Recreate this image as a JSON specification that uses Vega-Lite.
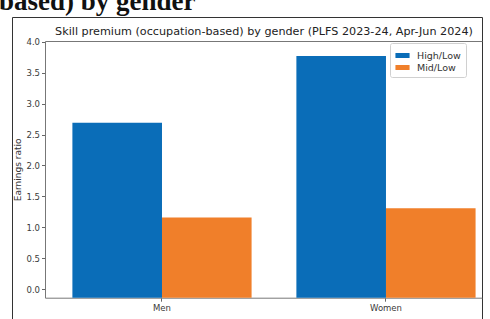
{
  "$schema": "https://vega.github.io/schema/vega-lite/v6.json",
  "width": 470,
  "height": 303,
  "autosize": {"type": "none"},
  "padding": {"left": 12, "top": 17, "right": 8, "bottom": 0},
  "background": "white",
  "title": {
    "text": "based) by gender",
    "anchor": "start",
    "frame": "group",
    "font": "Liberation Serif",
    "fontSize": 27,
    "fontWeight": "bold",
    "color": "#111111",
    "dx": -13,
    "baseline": "alphabetic",
    "offset": -20
  },
  "data": {
    "values": [
      {"gender": "Men", "ratio": "High/Low", "value": 2.69},
      {"gender": "Men", "ratio": "Mid/Low", "value": 1.16},
      {"gender": "Women", "ratio": "High/Low", "value": 3.77},
      {"gender": "Women", "ratio": "Mid/Low", "value": 1.31}
    ]
  },
  "layer": [
    {
      "mark": {"type": "bar"},
      "encoding": {
        "x": {
          "field": "gender",
          "type": "nominal",
          "sort": ["Men", "Women"],
          "scale": {"range": [33, 470], "paddingInner": 0.2, "paddingOuter": 0.0755, "align": 0.81},
          "axis": {
            "orient": "bottom",
            "offset": -22.3,
            "title": null,
            "labelAngle": 0,
            "labelFont": "DejaVu Sans",
            "labelFontSize": 8.5,
            "labelColor": "#3a3a3a",
            "labelPadding": 2,
            "tickSize": 3.5,
            "tickColor": "#666666",
            "domainColor": "#777777",
            "domainWidth": 1
          }
        },
        "xOffset": {
          "field": "ratio",
          "type": "nominal",
          "sort": ["High/Low", "Mid/Low"],
          "scale": {"paddingInner": 0, "paddingOuter": 0}
        },
        "y": {
          "field": "value",
          "type": "quantitative",
          "scale": {"domain": [-0.136, 4.011], "range": [280.7, 24], "nice": false, "zero": false},
          "axis": {
            "orient": "left",
            "offset": -33,
            "values": [0, 0.5, 1, 1.5, 2, 2.5, 3, 3.5, 4],
            "format": ".1f",
            "grid": false,
            "labelFont": "DejaVu Sans",
            "labelFontSize": 8.5,
            "labelColor": "#3a3a3a",
            "labelPadding": 2,
            "tickSize": 3.5,
            "tickColor": "#666666",
            "domainColor": "#777777",
            "title": "Earnings ratio",
            "titleFont": "DejaVu Sans",
            "titleFontSize": 9,
            "titleFontWeight": "normal",
            "titleColor": "#333333",
            "titlePadding": 3
          }
        },
        "y2": {"datum": -0.136},
        "color": {
          "field": "ratio",
          "type": "nominal",
          "sort": ["High/Low", "Mid/Low"],
          "scale": {"domain": ["High/Low", "Mid/Low"], "range": ["#0a6db8", "#f07f2a"]},
          "legend": {
            "title": null,
            "orient": "none",
            "legendX": 378,
            "legendY": 26,
            "direction": "vertical",
            "symbolType": "M-1,-0.35H1V0.35H-1Z",
            "symbolSize": 200,
            "symbolStrokeWidth": 0,
            "labelFont": "DejaVu Sans",
            "labelFontSize": 9.5,
            "labelColor": "#333333",
            "labelOffset": 7,
            "padding": 5,
            "rowPadding": 0,
            "strokeColor": "#d0d0d0",
            "fillColor": "white",
            "cornerRadius": 2
          }
        }
      }
    },
    {
      "mark": {"type": "bar", "opacity": 0},
      "encoding": {
        "x": {
          "field": "gender",
          "type": "nominal",
          "sort": ["Men", "Women"],
          "axis": {
            "orient": "top",
            "offset": -24,
            "ticks": false,
            "labels": false,
            "domain": true,
            "domainColor": "#777777",
            "title": "Skill premium (occupation-based) by gender (PLFS 2023-24, Apr-Jun 2024)",
            "titleFont": "DejaVu Sans",
            "titleFontSize": 11.2,
            "titleFontWeight": "normal",
            "titleColor": "#222222",
            "titleBaseline": "alphabetic",
            "titlePadding": 7
          }
        }
      }
    }
  ],
  "resolve": {"axis": {"x": "independent"}},
  "config": {"view": {"stroke": "#333333", "strokeWidth": 1}}
}
